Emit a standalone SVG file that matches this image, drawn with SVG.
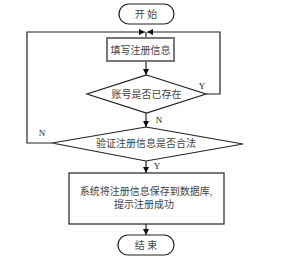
<svg xmlns="http://www.w3.org/2000/svg" width="291" height="262" viewBox="0 0 291 262">
<defs>
<marker id="arr" viewBox="0 0 10 10" refX="10" refY="5" markerWidth="6" markerHeight="6" markerUnits="userSpaceOnUse" orient="auto">
<path d="M0,0 L10,5 L0,10 z" fill="#111"/>
</marker>
<style>
.shape{fill:#fff;stroke:#222;stroke-width:1.2}
.gray{fill:#fff;stroke:#777;stroke-width:2}
.t{font-family:"Liberation Serif","Noto Sans CJK SC",serif;font-size:10px;fill:#444;text-anchor:middle;dominant-baseline:central}
.lab{font-family:"Liberation Serif","Noto Sans CJK SC",serif;font-size:9px;fill:#222;text-anchor:middle;dominant-baseline:central}
.c{fill:none;stroke:#222;stroke-width:1.2}
</style>
</defs>
<rect width="291" height="262" fill="#fff"/>
<g id="connectors">
<path class="c" d="M52,143 H27 V32 H145" marker-end="url(#arr)"/>
<path class="c" d="M206,94 H220 V32 H147" marker-end="url(#arr)"/>
<path class="c" d="M146,32 V38"/>
<path class="c" d="M146,61 V75" marker-end="url(#arr)"/>
<path class="c" d="M146,113 V127" marker-end="url(#arr)"/>
<path class="c" d="M146,161 V173" marker-end="url(#arr)"/>
<path class="c" d="M146,224 V235" marker-end="url(#arr)"/>
<text class="lab" x="202" y="86">Y</text>
<text class="lab" x="159" y="120">N</text>
<text class="lab" x="42" y="133">N</text>
<text class="lab" x="157" y="166">Y</text>
</g>
<g id="start">
<rect class="shape" x="119" y="4" width="55" height="20" rx="10" ry="10"/>
<text class="t" x="146" y="14">开 始</text>
</g>
<g id="fill-info">
<rect class="gray" x="107" y="38" width="67" height="23"/>
<text class="t" x="140.5" y="50">填写注册信息</text>
</g>
<g id="check-exists">
<polygon class="shape" points="146.5,75 206,94 146.5,113 87,94"/>
<text class="t" x="146.5" y="94">账号是否已存在</text>
</g>
<g id="check-valid">
<polygon class="shape" points="146,127 243,144 146,161 52,143"/>
<text class="t" x="146" y="143">验证注册信息是否合法</text>
</g>
<g id="save">
<rect class="shape" x="69" y="173" width="155" height="51"/>
<text class="t" x="146" y="191">系统将注册信息保存到数据库,</text>
<text class="t" x="144" y="204">提示注册成功</text>
</g>
<g id="end">
<rect class="shape" x="118" y="235" width="56" height="20" rx="10" ry="10"/>
<text class="t" x="146" y="245">结 束</text>
</g>
</svg>
